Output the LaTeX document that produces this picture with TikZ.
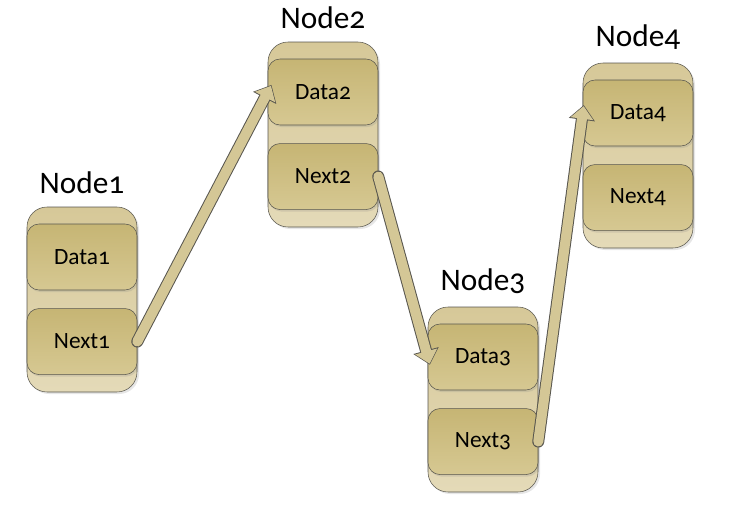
\documentclass[tikz,border=0pt]{standalone}
\usepackage{fontspec}
\setmainfont[Numbers=OldStyle]{Carlito}
\usetikzlibrary{arrows.meta,positioning,shadows}
\definecolor{holdtop}{RGB}{214,200,152}
\definecolor{holdbot}{RGB}{228,218,184}
\definecolor{fieldtop}{RGB}{198,181,116}
\definecolor{fieldbot}{RGB}{214,200,146}
\definecolor{edgegray}{RGB}{88,86,78}
\definecolor{linktan}{RGB}{212,199,150}
\tikzset{
  holder/.style={draw=edgegray, rounded corners=15pt, top color=holdtop, bottom color=holdbot, minimum width=82.5pt, minimum height=138.75pt, drop shadow={opacity=0.2, shadow xshift=1.5pt, shadow yshift=-1.5pt}},
  field/.style={draw=edgegray, rounded corners=9pt, top color=fieldtop, bottom color=fieldbot, minimum width=82.5pt, minimum height=49.5pt, font=\fontsize{17.5}{20}\selectfont, drop shadow={opacity=0.2, shadow xshift=1pt, shadow yshift=-1.5pt}},
  title/.style={font=\fontsize{23.5}{28}\selectfont, inner sep=1pt},
  linkedge/.style={line width=9pt, draw=edgegray, line cap=round, -{Triangle[width=19pt,length=11pt]}},
  linkfill/.style={line width=7.5pt, draw=linktan, line cap=round, -{Triangle[width=16.5pt,length=9.5pt]}, shorten >=0.8pt}
}
\begin{document}
\begin{tikzpicture}[x=0.75pt, y=-0.75pt, node distance=8.5pt]
  \useasboundingbox (0,0) rectangle (733,511);
  % the four list nodes
  \node[holder] (node1) at (82,299.5) {};
  \node[holder] (node2) at (323,134.5) {};
  \node[holder] (node3) at (483,399.5) {};
  \node[holder] (node4) at (638,155.5) {};
  \node[title, above=of node1] (t1) {Node1};
  \node[title, above=of node2] (t2) {Node2};
  \node[title, above=of node3] (t3) {Node3};
  \node[title, above=of node4] (t4) {Node4};
  \node[field, below=12.75pt of node1.north] (data1) {Data1};
  \node[field, below=13.5pt of data1] (next1) {Next1};
  \node[field, below=12.75pt of node2.north] (data2) {Data2};
  \node[field, below=13.5pt of data2] (next2) {Next2};
  \node[field, below=12.75pt of node3.north] (data3) {Data3};
  \node[field, below=13.5pt of data3] (next3) {Next3};
  \node[field, below=12.75pt of node4.north] (data4) {Data4};
  \node[field, below=13.5pt of data4] (next4) {Next4};
  % links
  \draw[linkedge, shorten >=-6pt] (next1.east) -- (data2.west);
  \draw[linkfill, shorten >=-5.2pt] (next1.east) -- (data2.west);
  \draw[linkedge, shorten >=-6pt] (next2.east) -- (data3.west);
  \draw[linkfill, shorten >=-5.2pt] (next2.east) -- (data3.west);
  \draw[linkedge, shorten >=-6pt] (next3.east) -- (data4.west);
  \draw[linkfill, shorten >=-5.2pt] (next3.east) -- (data4.west);
\end{tikzpicture}
\end{document}
